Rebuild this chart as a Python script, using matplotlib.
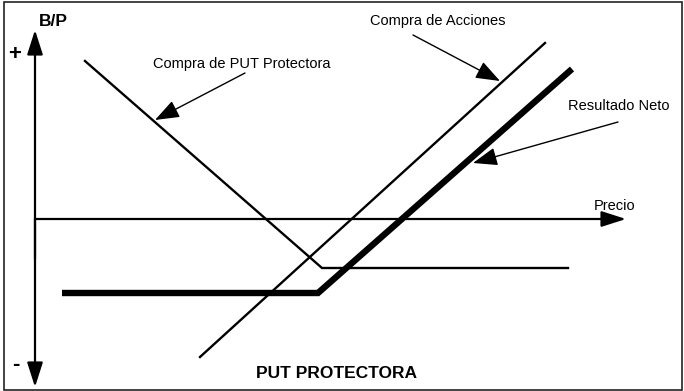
import matplotlib
matplotlib.use("Agg")
import matplotlib.pyplot as plt
from matplotlib.patches import Rectangle

# Schematic payoff data (price, B/P) with origin at the axes crossing
precio_put = [50, 287, 533]
bp_put = [158, -49, -49]

precio_acc = [165, 510]
bp_acc = [-138, 176]

precio_neto = [27, 283, 537]
bp_neto = [-74, -74, 150]

# axis extents
x_axis_end = 591
y_axis_top = 189
y_axis_bottom = -168

etiquetas = {
    "put": "Compra de PUT Protectora",
    "acc": "Compra de Acciones",
    "neto": "Resultado Neto",
    "precio": "Precio",
    "bp": "B/P",
    "titulo": "PUT PROTECTORA",
}

plt.rcParams['font.family'] = ['Liberation Sans', 'DejaVu Sans']

W, H = 684, 391
fig = plt.figure(figsize=(W / 100, H / 100), dpi=100)
ax = fig.add_axes([0, 0, 1, 1])
ax.set_xlim(-35, W - 35)
ax.set_ylim(219 - H, 219)
ax.axis('off')

# border
ax.add_patch(Rectangle((-31, 219 - 389.5), 678, 387.5, fill=False,
                       edgecolor='#222222', linewidth=1.2))

arrow_axis = dict(arrowstyle='-|>,head_length=0.75,head_width=0.24',
                  color='black', lw=1.6, shrinkA=0, shrinkB=0,
                  mutation_scale=20)
# vertical axis (both directions)
ax.annotate('', xy=(0, y_axis_top), xytext=(0, -40), arrowprops=arrow_axis)
ax.annotate('', xy=(0, y_axis_bottom), xytext=(0, 0), arrowprops=arrow_axis)
# horizontal axis
ax.annotate('', xy=(x_axis_end, 0), xytext=(0, 0), arrowprops=arrow_axis)

# lines
ax.plot(precio_put, bp_put, color='black', lw=1.7, solid_joinstyle='miter')
ax.plot(precio_acc, bp_acc, color='black', lw=1.7)
ax.plot(precio_neto, bp_neto, color='black', lw=4.6, solid_joinstyle='miter',
        solid_capstyle='butt')

# labels
ax.text(18, 197, etiquetas["bp"], fontsize=12.5, fontweight='bold',
        ha='center', va='center')
ax.text(-20, 164, "+", fontsize=16, fontweight='bold', ha='center', va='center')
ax.text(-19, -145, "-", fontsize=16, fontweight='bold', ha='center', va='center')
ax.text(580, 13, etiquetas["precio"], fontsize=10.5, ha='center', va='center')
ax.text(301, -154, etiquetas["titulo"], fontsize=12.5, fontweight='bold',
        ha='center', va='center')

ax.text(207, 155, etiquetas["put"], fontsize=10.5, ha='center', va='center')
ax.text(403, 198, etiquetas["acc"], fontsize=10.5, ha='center', va='center')
ax.text(584, 113, etiquetas["neto"], fontsize=10.5, ha='center', va='center')

arrow_ann = dict(arrowstyle='-|>,head_length=0.75,head_width=0.28',
                 color='black', lw=1.0, shrinkA=0, shrinkB=0,
                 mutation_scale=20)
ax.annotate('', xy=(120, 99), xytext=(210, 146), arrowprops=arrow_ann)
ax.annotate('', xy=(465, 138), xytext=(378, 184), arrowprops=arrow_ann)
ax.annotate('', xy=(438, 56), xytext=(583, 97), arrowprops=arrow_ann)

fig.savefig('out.png', dpi=100)
